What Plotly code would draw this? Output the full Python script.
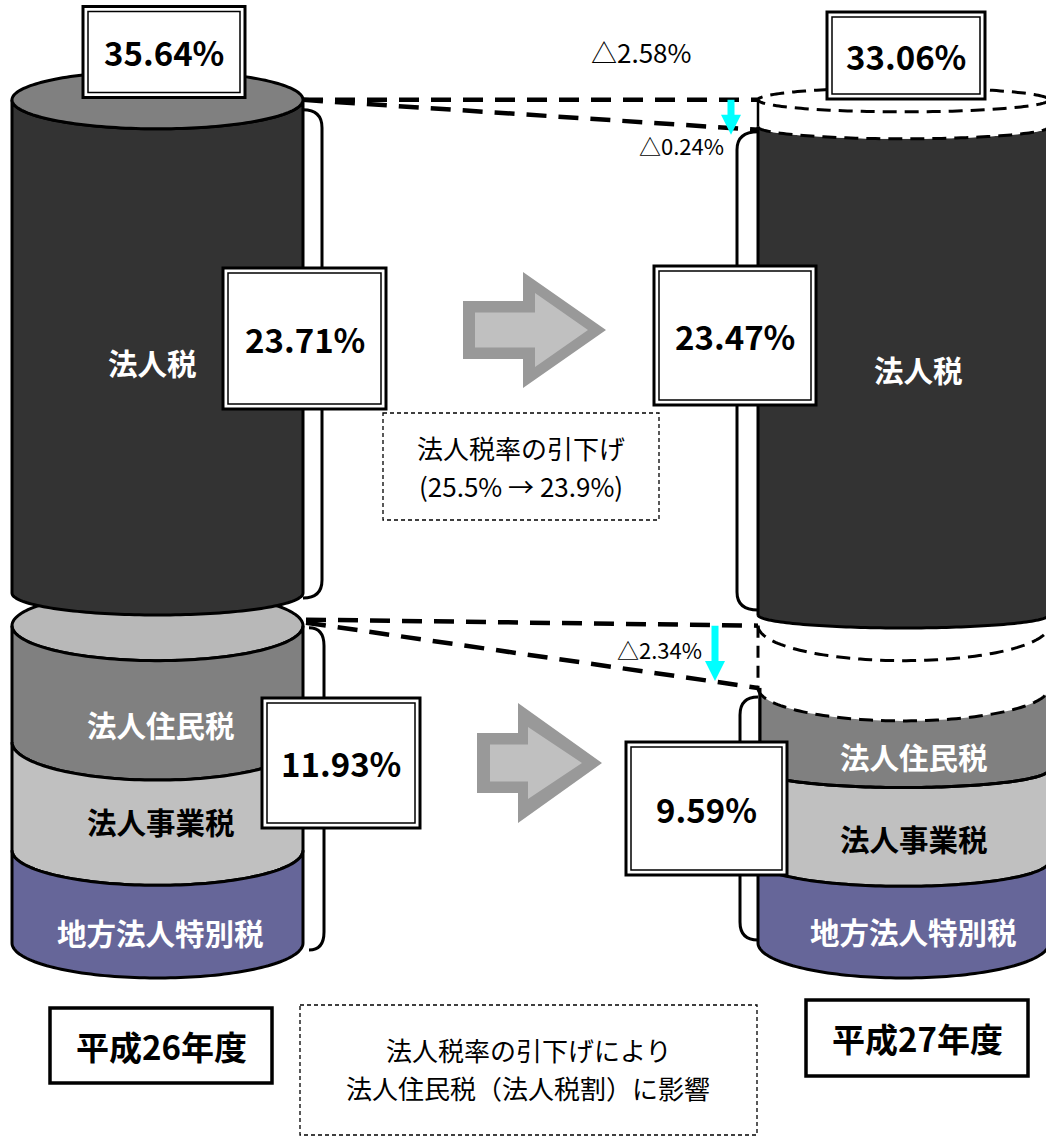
import numpy as np
import plotly.graph_objects as go

# ---------------- values ----------------
years = ["平成26年度", "平成27年度"]
corp_tax_rate = [23.71, 23.47]       # 法人税
local_tax_rate = [11.93, 9.59]       # 地方分（法人住民税・法人事業税・地方法人特別税）
total_rate = [35.64, 33.06]          # 合計
corp_name = "法人税"
local_names = ["法人住民税", "法人事業税", "地方法人特別税"]
note_rate_cut = ["法人税率の引下げ", "(25.5% → 23.9%)"]
note_effect = ["法人税率の引下げにより", "法人住民税（法人税割）に影響"]

# ---------------- layout geometry ----------------
W, H = 1046, 1137
FONT = "Noto Sans CJK JP"
RX = 145.5
CX = [157.5, 903.5]
BASE_Y = 943.0           # bottom of both cylinders
PX_UPPER = 20.8          # pixels per % for the 法人税 cylinder
PX_LOWER = 26.6          # pixels per % for the local-tax cylinder
DARK_BOTTOM = [593.0, 615.0]
# share of each local-tax band inside its cylinder (drawing proportions)
LOCAL_SPLIT = [[0.367, 0.341, 0.292], [0.32, 0.36, 0.32]]
# vertical nudges for the band labels
LABEL_NUDGE = [[4, -12, 0], [2, 1, -1]]
# ellipse half-heights (perspective) for each boundary
RY_LEFT = dict(cap=29, dark_bottom=22, lower_cap=35, bands=[38, 35, 35])
RY_RIGHT = dict(band_top=12, dark_top=12, dark_bottom=13, gap_top=35, lower_top=33, bands=[18, 25, 35])

C_DARK = "#333333"
C_CAP = "#808080"
C_RES = "#808080"
C_BIZ = "#C0C0C0"
C_SPC = "#666699"
C_LCAP = "#B8B8B8"
BAND_COLORS = [C_RES, C_BIZ, C_SPC]
LABEL_COLORS = ["white", "black", "white"]
LABEL_SIZE = 29.5
NOTE_SIZE = 26
NOTE_GAP = 38

shapes = []
annotations = []


def path_str(pts, closed=True):
    d = "M " + " L ".join(f"{x:.2f},{y:.2f}" for x, y in pts)
    return d + (" Z" if closed else "")


def add_path(pts, fill=None, lw=0.0, dash=None, closed=True, color="black"):
    line = dict(color=color, width=lw) if lw > 0 else dict(width=0)
    if dash and lw > 0:
        line["dash"] = dash
    shapes.append(dict(type="path", path=path_str(pts, closed), xref="x", yref="y",
                       fillcolor=fill if fill else "rgba(0,0,0,0)", line=line, layer="above"))


def lower_arc(cx, cy, ry, l2r=True, n=90):
    t = np.linspace(np.pi, 0, n)
    pts = list(zip(cx + RX * np.cos(t), cy + ry * np.sin(t)))
    return pts if l2r else pts[::-1]


def ellipse(cx, cy, ry, n=180):
    t = np.linspace(0, 2 * np.pi, n)
    return list(zip(cx + RX * np.cos(t), cy + ry * np.sin(t)))


def band(cx, y1, ry1, y2, ry2):
    return lower_arc(cx, y1, ry1, True) + lower_arc(cx, y2, ry2, False)


def text(x, y, s, size, color="black", bold=False):
    annotations.append(dict(x=x, y=y, xref="x", yref="y", text=s, showarrow=False,
                            font=dict(family=FONT, size=size, color=color,
                                      weight="bold" if bold else "normal"),
                            xanchor="center", yanchor="middle"))


def rect(x0, y0, x1, y1, lw, fill="white", dash=None):
    line = dict(color="black", width=lw)
    if dash:
        line["dash"] = dash
    shapes.append(dict(type="rect", x0=x0, y0=y0, x1=x1, y1=y1, xref="x", yref="y",
                       fillcolor=fill, line=line, layer="above"))


def double_box(xc, yc, w, h, label):
    rect(xc - w / 2, yc - h / 2, xc + w / 2, yc + h / 2, 3)
    rect(xc - w / 2 + 5, yc - h / 2 + 5, xc + w / 2 - 5, yc + h / 2 - 5, 1.5, fill="rgba(0,0,0,0)")
    text(xc, yc, label, 33, bold=True)


def note(xc, yc, lines):
    for k, s in enumerate(lines):
        text(xc, yc + (k - (len(lines) - 1) / 2) * NOTE_GAP, s, NOTE_SIZE)


def bracket(x_edge, x_bar, y0, y1, r=18):
    d = (f"M {x_edge},{y0} Q {x_bar},{y0} {x_bar},{y0 + r} L {x_bar},{y1 - r} "
         f"Q {x_bar},{y1} {x_edge},{y1}")
    shapes.append(dict(type="path", path=d, xref="x", yref="y", fillcolor="rgba(0,0,0,0)",
                       line=dict(color="black", width=3), layer="above"))


# ---------------- derived levels ----------------
left_top = DARK_BOTTOM[0] - corp_tax_rate[0] * PX_UPPER
right_dark_top = DARK_BOTTOM[1] - corp_tax_rate[1] * PX_UPPER
left_local_top = BASE_Y - local_tax_rate[0] * PX_LOWER
right_local_top = BASE_Y - local_tax_rate[1] * PX_LOWER
gap_top = right_local_top - (local_tax_rate[0] - local_tax_rate[1]) * PX_LOWER

L, R = CX[0] - RX, CX[0] + RX
RL = CX[1] - RX

# ---------------- left cylinder (平成26年度) ----------------
cxl = CX[0]
add_path(ellipse(cxl, left_local_top, RY_LEFT["lower_cap"]), fill=C_LCAP, lw=3)
ys = [left_local_top]
for f in LOCAL_SPLIT[0]:
    ys.append(ys[-1] + f * (BASE_Y - left_local_top))
rys = [RY_LEFT["lower_cap"]] + RY_LEFT["bands"]
for i in range(3):
    add_path(band(cxl, ys[i], rys[i], ys[i + 1], rys[i + 1]), fill=BAND_COLORS[i], lw=3)
    text(cxl + 3, (ys[i] + rys[i] + ys[i + 1] + rys[i + 1]) / 2 + LABEL_NUDGE[0][i],
         local_names[i], LABEL_SIZE, LABEL_COLORS[i], True)
add_path(band(cxl, left_top, RY_LEFT["cap"], DARK_BOTTOM[0], RY_LEFT["dark_bottom"]), fill=C_DARK, lw=3)
add_path(ellipse(cxl, left_top, RY_LEFT["cap"]), fill=C_CAP, lw=3)
text(cxl - 5, 362, corp_name, LABEL_SIZE, "white", True)

# ---------------- right cylinder (平成27年度) ----------------
cxr = CX[1]
DASH_E = "14px,8px"
ysr = [right_local_top]
for f in LOCAL_SPLIT[1]:
    ysr.append(ysr[-1] + f * (BASE_Y - right_local_top))
rysr = [RY_RIGHT["lower_top"]] + RY_RIGHT["bands"]
# removed part of the local-tax cylinder
add_path(band(cxr, gap_top, RY_RIGHT["gap_top"], right_local_top, RY_RIGHT["lower_top"]), fill="white")
for i in range(3):
    add_path(band(cxr, ysr[i], rysr[i], ysr[i + 1], rysr[i + 1]), fill=BAND_COLORS[i],
             lw=0 if i == 0 else 3)
    text(cxr + 10, (ysr[i] + rysr[i] + ysr[i + 1] + rysr[i + 1]) / 2 + LABEL_NUDGE[1][i],
         local_names[i], LABEL_SIZE, LABEL_COLORS[i], True)
add_path([(RL + 2, right_local_top), (RL + 2, ysr[1])], lw=3, closed=False)
add_path(lower_arc(cxr, ysr[1], rysr[1]), lw=3, closed=False)
add_path(lower_arc(cxr, right_local_top, RY_RIGHT["lower_top"]), lw=3, dash=DASH_E, closed=False)
add_path(lower_arc(cxr, gap_top, RY_RIGHT["gap_top"]), lw=3, dash=DASH_E, closed=False)
add_path([(RL, gap_top), (RL, right_local_top)], lw=3, dash="12px,8px", closed=False)

# 法人税 cylinder
add_path(band(cxr, right_dark_top, RY_RIGHT["dark_top"], DARK_BOTTOM[1], RY_RIGHT["dark_bottom"]), fill=C_DARK)
add_path([(RL, right_dark_top)] + lower_arc(cxr, DARK_BOTTOM[1], RY_RIGHT["dark_bottom"])[:1], lw=3, closed=False)
add_path(lower_arc(cxr, DARK_BOTTOM[1], RY_RIGHT["dark_bottom"]), lw=3, closed=False)
# removed part of the 法人税 cylinder
add_path(band(cxr, left_top, RY_RIGHT["band_top"], right_dark_top, RY_RIGHT["dark_top"]), fill="white")
add_path(ellipse(cxr, left_top, RY_RIGHT["band_top"]), fill="white", lw=3, dash=DASH_E)
add_path(lower_arc(cxr, right_dark_top, RY_RIGHT["dark_top"]), lw=3, dash=DASH_E, closed=False)
add_path([(RL, left_top), (RL, right_dark_top)], lw=2.5, closed=False)
text(cxr + 15, 369, corp_name, LABEL_SIZE, "white", True)

# ---------------- connecting dashed lines ----------------
DASH_C = "20px,12px"
add_path([(R, left_top), (RL, left_top)], lw=4.5, dash=DASH_C, closed=False)
add_path([(R, left_top), (RL, right_dark_top + 3)], lw=4.5, dash=DASH_C, closed=False)
add_path([(R + 3, left_local_top - 6), (RL, gap_top)], lw=4.5, dash=DASH_C, closed=False)
add_path([(R + 3, left_local_top - 3), (RL, right_local_top)], lw=4.5, dash=DASH_C, closed=False)


def cyan_arrow(x, y0, y1, head=20, hw=10, sw=3.5):
    pts = [(x - sw, y0), (x + sw, y0), (x + sw, y1 - head), (x + hw, y1 - head),
           (x, y1), (x - hw, y1 - head), (x - sw, y1 - head)]
    add_path(pts, fill="#00FFFF")


cyan_arrow(731, left_top, right_dark_top + 8)
cyan_arrow(715, gap_top, right_local_top - 7)

# ---------------- brackets ----------------
bracket(R, R + 19, left_top + 10, DARK_BOTTOM[0] + 5)
bracket(R + 6, R + 21, left_local_top + 2, BASE_Y + 7)
bracket(RL, RL - 21, right_dark_top + 5, DARK_BOTTOM[1] - 5)
bracket(RL, RL - 18, right_local_top + 9, BASE_Y - 3)

# ---------------- block arrows ----------------
def block_arrow(x0, xh, xt, yc, half_shaft, half_head, fill):
    pts = [(x0, yc - half_shaft), (xh, yc - half_shaft), (xh, yc - half_head), (xt, yc),
           (xh, yc + half_head), (xh, yc + half_shaft), (x0, yc + half_shaft)]
    add_path(pts, fill=fill)


block_arrow(463, 523, 606, 330, 29, 58, "#999999")
block_arrow(475, 535, 588, 330, 17.5, 37, "#C0C0C0")
block_arrow(477, 518, 602, 763, 30, 60, "#999999")
block_arrow(490, 528, 582, 763, 18.5, 36, "#C0C0C0")

# ---------------- value boxes ----------------
double_box(164, 52, 162, 91, f"{total_rate[0]:.2f}%")
double_box(906, 55.5, 158, 87, f"{total_rate[1]:.2f}%")
double_box(304.5, 338.5, 163, 141, f"{corp_tax_rate[0]:.2f}%")
double_box(735, 335.5, 162, 139, f"{corp_tax_rate[1]:.2f}%")
double_box(341, 763, 158, 130, f"{local_tax_rate[0]:.2f}%")
double_box(706.5, 808.5, 161, 133, f"{local_tax_rate[1]:.2f}%")

# ---------------- change labels ----------------
text(641, 51, f"△{total_rate[0] - total_rate[1]:.2f}%", 26)
text(681, 145, f"△{corp_tax_rate[0] - corp_tax_rate[1]:.2f}%", 22)
text(659, 649, f"△{local_tax_rate[0] - local_tax_rate[1]:.2f}%", 22)

# ---------------- notes ----------------
rect(383, 413, 659, 520, 1.3, dash="4px,3px")
note(521, 466, note_rate_cut)
rect(300, 1005, 757, 1135, 1.3, dash="4px,3px")
note(528, 1068.5, note_effect)

# ---------------- year boxes ----------------
rect(50, 1008, 272, 1083, 3.5)
text(161, 1046, years[0], 33, bold=True)
rect(806, 1000, 1028, 1076, 3.5)
text(917, 1038, years[1], 33, bold=True)

fig = go.Figure()
fig.update_layout(
    width=W, height=H, margin=dict(l=0, r=0, t=0, b=0),
    paper_bgcolor="white", plot_bgcolor="white",
    xaxis=dict(range=[0, W], visible=False, fixedrange=True),
    yaxis=dict(range=[H, 0], visible=False, fixedrange=True),
    shapes=shapes, annotations=annotations, showlegend=False,
)
fig.write_html("out.html")
